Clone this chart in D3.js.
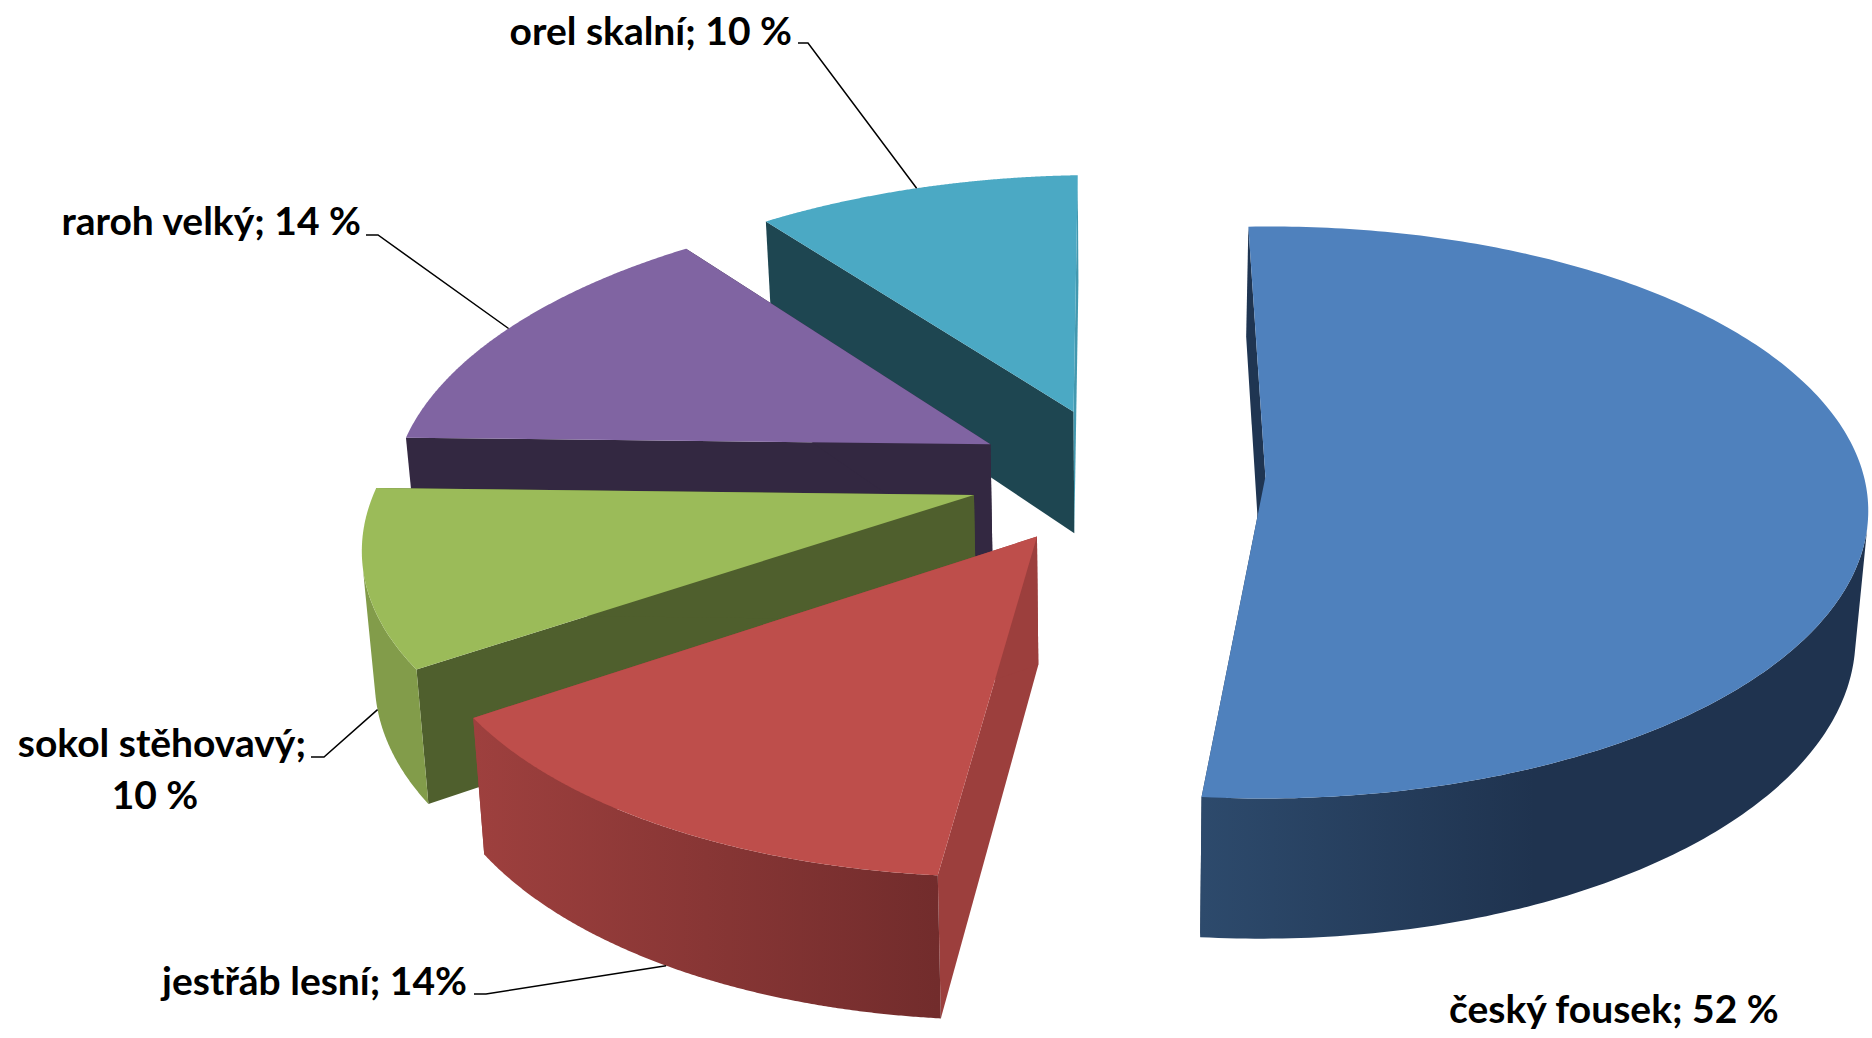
<!DOCTYPE html>
<html>
<head>
<meta charset="utf-8">
<title>Podíl kořisti</title>
<script src="https://cdn.jsdelivr.net/npm/d3@7"></script>
<style>
  body { margin: 0; background: #fff; }
  text { font-family: Lato, "Open Sans", sans-serif; font-weight: 700; fill: #000; }
</style>
</head>
<body>
<div id="chart"></div>
<script>
// data
const categories = ['český fousek', 'jestřáb lesní', 'sokol stěhovavý', 'raroh velký', 'orel skalní'];
const shares = [52, 14, 10, 14, 10];
const labelTexts = [['český fousek; 52 %'], ['jestřáb lesní; 14%'], ['sokol stěhovavý;', '10 %'], ['raroh velký; 14 %'], ['orel skalní; 10 %']];

// look
const topColors = ['#4F81BD', '#BE4E4B', '#9BBB59', '#8064A2', '#4BA9C4'];
const startWallColors = ['#1F3552', '#9C3F3D', '#4F5F2D', '#332841', '#1E4651'];
const endWallColors = ['#1F3552', '#9C3F3D', '#4F5F2D', '#332841', '#4398AF'];
const rimColors = [['#2D4A6C', '#1F334F'], ['#9E403E', '#722C2C'], ['#829C4A', '#829C4A'], ['#332841', '#332841'], ['#1E4651', '#1E4651']];
const rimFade = [0.5, 1, 1, 1, 1];   // how far along the wall the shading runs

const width = 1872, height = 1038;
const rotation = -1.5 * Math.PI / 180;
const explode = 0.247;     // every slice is pulled out by the same amount
const tilt = 0.125;        // perspective strength, near edge looks bigger
const shearX = -0.025, shearY = -0.012;
const wallHeight = 125, wallTaper = 0.12, wallShrink = 0.983;
const drawOrder = [4, 3, 2, 1, 0];

// Label placement: x, baseline y, anchor. Leader elbow goes from the text to the rim.
const labelPos = [
  { x: 1449, y: 1023, anchor: 'start' },
  { x: 467, y: 995, anchor: 'end', elbow: [[474, 994], [486, 994]], onBase: true },
  { x: 306, y: 757, anchor: 'end', elbow: [[311, 757], [324, 757]], onBase: true, line2x: 155, line2y: 809 },
  { x: 361, y: 235, anchor: 'end', elbow: [[366, 235], [378, 235]] },
  { x: 792, y: 45, anchor: 'end', elbow: [[798, 43], [808, 43]] }
];

const xScale = d3.scaleLinear().domain([-1, 1]).range([1118 - 597, 1118 + 597]);
const yScale = d3.scaleLinear().domain([-1, 1]).range([475 - 281, 475 + 281]);

// Pie plane -> screen. u goes right, v goes towards the viewer.
function project(u, v, base) {
  const s = 1 / (1 - tilt * v);
  let x = xScale((u + shearX * v) * s), y = yScale((v + shearY * u) * s);
  if (base) {
    x = xScale(0) + (x - xScale(0)) * wallShrink;
    y += wallHeight * (1 + wallTaper * v);
  }
  return [x, y];
}

const pie = d3.pie().sort(null).startAngle(rotation).endAngle(rotation + 2 * Math.PI);
const arcs = pie(shares);
const line = d3.line();

const svg = d3.select('#chart').append('svg')
  .attr('width', width)
  .attr('height', height);
const defs = svg.append('defs');

function rimPoint(d, angle, base) {
  const mid = (d.startAngle + d.endAngle) / 2;
  const u = explode * Math.sin(mid) + Math.sin(angle);
  const v = -explode * Math.cos(mid) - Math.cos(angle);
  return project(u, v, base);
}

function apexPoint(d, base) {
  const mid = (d.startAngle + d.endAngle) / 2;
  return project(explode * Math.sin(mid), -explode * Math.cos(mid), base);
}

drawOrder.forEach((i) => {
  const d = arcs[i];
  const g = svg.append('g').attr('class', 'slice').attr('data-name', categories[i]);
  const angles = d3.range(0, 241).map((k) => d.startAngle + (d.endAngle - d.startAngle) * k / 240);

  // flat walls along both cut edges
  [[d.startAngle, startWallColors[i]], [d.endAngle, endWallColors[i]]].forEach(([a, color]) => {
    g.append('path')
      .attr('d', line([apexPoint(d, false), rimPoint(d, a, false), rimPoint(d, a, true), apexPoint(d, true)]) + 'Z')
      .attr('fill', color);
  });

  // curved outer wall, only the stretch that faces us
  const stripFaces = (a0, a1) => d3.polygonArea([rimPoint(d, a0, false), rimPoint(d, a1, false), rimPoint(d, a1, true), rimPoint(d, a0, true)]) > 0;
  const facing = angles.filter((a, k) =>
    (k < angles.length - 1 && stripFaces(a, angles[k + 1])) || (k > 0 && stripFaces(angles[k - 1], a)));
  if (facing.length) {
    const xs = facing.map((a) => rimPoint(d, a, false)[0]);
    const [x0, x1] = d3.extent(xs);
    const grad = defs.append('linearGradient')
      .attr('id', 'rim' + i)
      .attr('gradientUnits', 'userSpaceOnUse')
      .attr('x1', x0).attr('x2', x1).attr('y1', 0).attr('y2', 0);
    grad.append('stop').attr('offset', 0).attr('stop-color', rimColors[i][0]);
    grad.append('stop').attr('offset', rimFade[i]).attr('stop-color', rimColors[i][1]);
    const outline = facing.map((a) => rimPoint(d, a, false))
      .concat(facing.slice().reverse().map((a) => rimPoint(d, a, true)));
    g.append('path')
      .attr('d', line(outline) + 'Z')
      .attr('fill', 'url(#rim' + i + ')');
  }

  // top face
  g.append('path')
    .attr('d', line([apexPoint(d, false)].concat(angles.map((a) => rimPoint(d, a, false)))) + 'Z')
    .attr('fill', topColors[i]);
});

// labels and leader lines
labelTexts.forEach((lines, i) => {
  const pos = labelPos[i];
  svg.append('text')
    .attr('x', pos.x)
    .attr('y', pos.y)
    .attr('text-anchor', pos.anchor)
    .attr('font-size', 39)
    .text(lines[0]);
  if (lines[1]) {
    svg.append('text')
      .attr('x', pos.line2x)
      .attr('y', pos.line2y)
      .attr('text-anchor', 'middle')
      .attr('font-size', 39)
      .text(lines[1]);
  }
  if (pos.elbow) {
    const d = arcs[i];
    const end = rimPoint(d, (d.startAngle + d.endAngle) / 2, !!pos.onBase);
    svg.append('path')
      .attr('d', line(pos.elbow.concat([end])))
      .attr('fill', 'none')
      .attr('stroke', '#000')
      .attr('stroke-width', 1.5);
  }
});
</script>
</body>
</html>
